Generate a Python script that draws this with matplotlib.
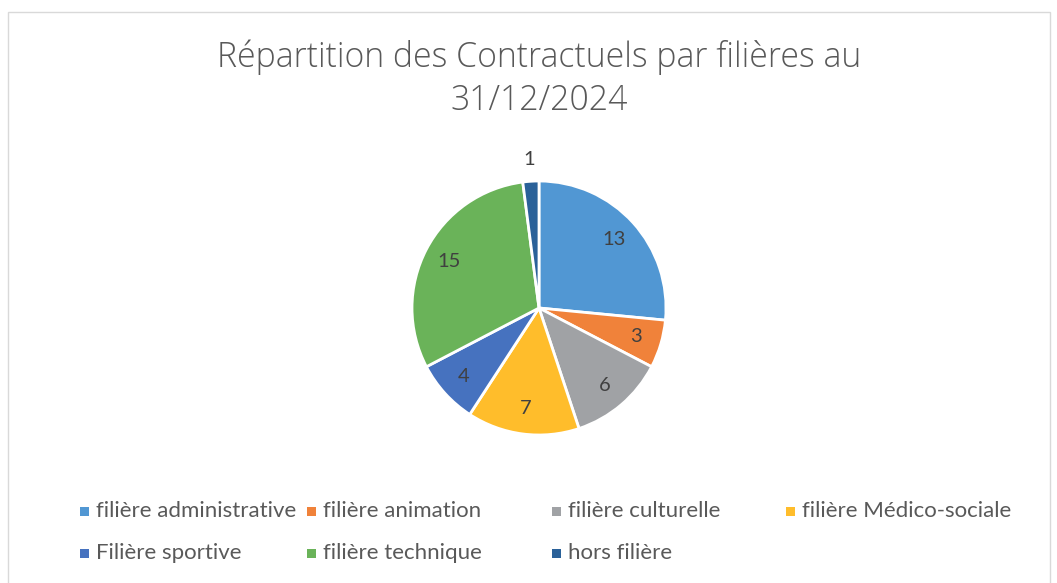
import matplotlib
matplotlib.use("Agg")
import matplotlib.pyplot as plt
from matplotlib.patches import Rectangle
import numpy as np

categories = ["filière administrative", "filière animation", "filière culturelle",
              "filière Médico-sociale", "Filière sportive", "filière technique", "hors filière"]
values = [13, 3, 6, 7, 4, 15, 1]
colors = ["#5197D3", "#F0823A", "#A0A2A5", "#FFBD2B", "#4672BF", "#6AB359", "#2A6199"]

plt.rcParams['font.family'] = ['Lato', 'DejaVu Sans']

W, H = 1057, 583
fig = plt.figure(figsize=(W / 100, H / 100), dpi=100)

# chart border
fig.patches.append(Rectangle((8 / W, -0.01), (1050 - 8) / W, (H - 12) / H + 0.01,
                             transform=fig.transFigure, fill=False,
                             edgecolor="#D9D9D9", linewidth=1))

for txt, yy in [("Répartition des Contractuels par filières au", 57), ("31/12/2024", 101)]:
    fig.text(539 / W, 1 - yy / H, txt, ha="center", va="center", fontsize=24.3,
             color="#595959", family=["Open Sans", "DejaVu Sans"], fontweight=300)

cx, cy, r = 539, 308, 127
ax = fig.add_axes([(cx - r) / W, (H - cy - r) / H, 2 * r / W, 2 * r / H])
wedges, _ = ax.pie(values, colors=colors, startangle=90, counterclock=False,
                   wedgeprops=dict(edgecolor="white", linewidth=2))
ax.set_xlim(-1, 1)
ax.set_ylim(-1, 1)
ax.set_aspect("equal")

total = sum(values)
cum = 0
for v in values:
    mid = 90 - (cum + v / 2) / total * 360
    cum += v
    d = 0.8 if v > 1 else 1.17
    ax.text(d * np.cos(np.radians(mid)), d * np.sin(np.radians(mid)), str(v),
            ha="center", va="center", fontsize=14.5, color="#404040")

# legend
col_x = [80, 307, 552, 786]
row_y = [511, 553]
for i, (cat, col) in enumerate(zip(categories, colors)):
    x = col_x[i % 4]
    y = row_y[i // 4]
    fig.patches.append(Rectangle((x / W, (H - y - 4.5) / H), 9 / W, 9 / H,
                                 transform=fig.transFigure, facecolor=col, edgecolor="none"))
    fig.text((x + 16) / W, 1 - y / H, cat, ha="left", va="center",
             fontsize=16, color="#595959")

fig.savefig("out.png", dpi=100)
